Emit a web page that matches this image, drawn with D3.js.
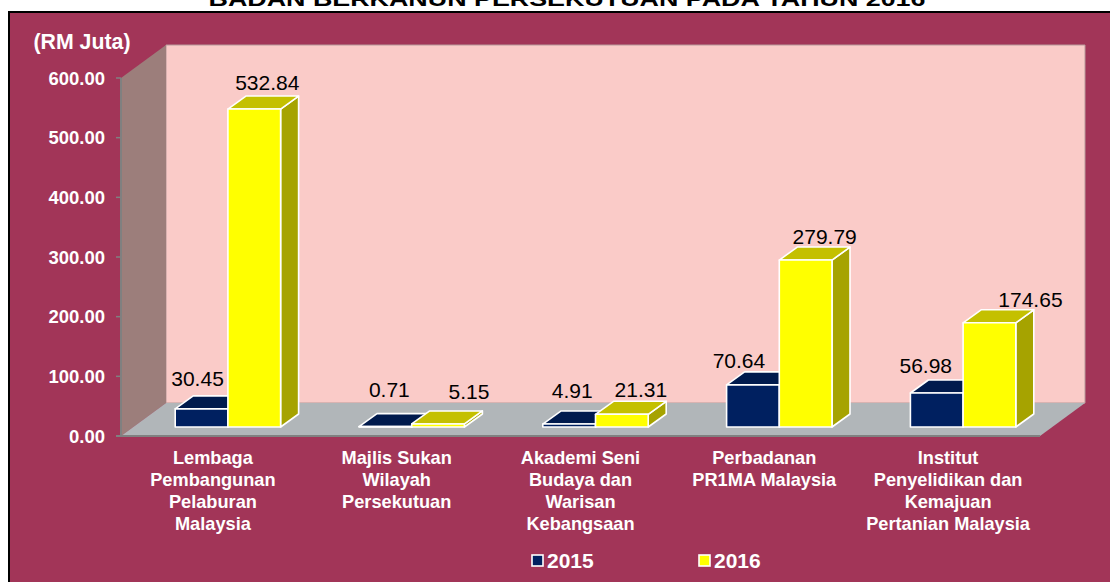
<!DOCTYPE html>
<html><head><meta charset="utf-8">
<script src="https://cdnjs.cloudflare.com/ajax/libs/d3/7.8.5/d3.min.js"></script>
<style>html,body{margin:0;padding:0;background:#fff}svg{display:block}text{font-family:"Liberation Sans",Arial,sans-serif}</style>
</head><body><svg id="c" width="1110" height="582"></svg>
<script>
const titleText = "BADAN BERKANUN PERSEKUTUAN PADA TAHUN 2016";
const unitLabel = "(RM Juta)";
const categories = [
  ["Lembaga","Pembangunan","Pelaburan","Malaysia"],
  ["Majlis Sukan","Wilayah","Persekutuan"],
  ["Akademi Seni","Budaya dan","Warisan","Kebangsaan"],
  ["Perbadanan","PR1MA Malaysia"],
  ["Institut","Penyelidikan dan","Kemajuan","Pertanian Malaysia"]
];
const seriesNames = ["2015","2016"];
const values2015 = [30.45,0.71,4.91,70.64,56.98];
const values2016 = [532.84,5.15,21.31,279.79,174.65];
const yTicks = [0,100,200,300,400,500,600];

const svg = d3.select("#c");
const plot = {x0:121,x1:1040,y0:436,y1:78};
const depth = {dx:45,dy:-33};
const barOff = {dx:15,dy:-9};
const barDepth = {dx:18,dy:-13};
const x = d3.scaleBand().domain(d3.range(categories.length)).range([plot.x0,plot.x1]);
const inner = d3.scaleBand().domain([0,1]).range([x.bandwidth()/2-52.7,x.bandwidth()/2+52.7]);
const y = d3.scaleLinear().domain([0,600]).range([plot.y0,plot.y1]);
const poly = pts => pts.map(p=>p.join(",")).join(" ");

// frame
svg.append("rect").attr("x",9).attr("y",12).attr("width",1110).attr("height",590)
  .attr("fill","#A23558").attr("stroke","#000").attr("stroke-width",2);
// title
svg.append("text").attr("x",567).attr("y",6).attr("text-anchor","middle")
  .attr("font-size",20.3).attr("font-weight","bold").attr("fill","#000")
  .attr("textLength",717).attr("lengthAdjust","spacingAndGlyphs").text(titleText);

// walls
const yTop = y(600), yBase = y(0);
svg.append("polygon").attr("points",poly([[plot.x0+depth.dx,yTop+depth.dy],[plot.x1+depth.dx,yTop+depth.dy],[plot.x1+depth.dx,yBase+depth.dy],[plot.x0+depth.dx,yBase+depth.dy]]))
  .attr("fill","#FACBC8").attr("stroke","#B89A9A").attr("stroke-width",1);
svg.append("polygon").attr("points",poly([[plot.x0,yTop],[plot.x0+depth.dx,yTop+depth.dy],[plot.x0+depth.dx,yBase+depth.dy],[plot.x0,yBase]]))
  .attr("fill","#9C7E7B");
svg.append("polygon").attr("points",poly([[plot.x0,yBase],[plot.x0+depth.dx,yBase+depth.dy],[plot.x1+depth.dx,yBase+depth.dy],[plot.x1,yBase]]))
  .attr("fill","#B1B6B9");
// axis lines
svg.append("line").attr("x1",plot.x0).attr("x2",plot.x0).attr("y1",yTop).attr("y2",yBase).attr("stroke","#808080").attr("stroke-width",2);
svg.append("line").attr("x1",plot.x0-5).attr("x2",plot.x1).attr("y1",yBase).attr("y2",yBase).attr("stroke","#808080").attr("stroke-width",2);

// y ticks
const gy = svg.append("g").selectAll("g").data(yTicks).join("g");
gy.filter(d=>d>0).append("line").attr("x1",plot.x0-5).attr("x2",plot.x0).attr("y1",d=>y(d)).attr("y2",d=>y(d)).attr("stroke","#808080").attr("stroke-width",1.5);
gy.append("text").attr("x",105).attr("y",d=>y(d)+6.5).attr("text-anchor","end").attr("font-size",18.5).attr("font-weight","bold").attr("fill","#fff").text(d=>d.toFixed(2));
svg.append("text").attr("x",82).attr("y",49).attr("text-anchor","middle").attr("font-size",21.3).attr("font-weight","bold").attr("fill","#fff").text(unitLabel);

// bars
const colors = [{front:"#002060",top:"#001A4D",side:"#001A4D"},{front:"#FFFF00",top:"#C4C000",side:"#A6A300"}];
const series = [values2015,values2016];
const barLabelOffsets = [[[-12,-10],[5,-6]],[[-4,-17],[23,-12]],[[-5,-13],[11,-4]],[[-22,-4],[11,-3]],[[-19,-7],[33,-3]]];
[0,1].forEach(s=>{
  const g = svg.append("g");
  series[s].forEach((v,i)=>{
    const bx = x(i)+inner(s)+barOff.dx, w = inner.bandwidth();
    const b = y(0)+barOff.dy, t = y(v)+barOff.dy;
    const st = {stroke:"#fff","stroke-width":1.6,"stroke-linejoin":"round"};
    const add = (pts,fill)=>{const p=g.append("polygon").attr("points",poly(pts)).attr("fill",fill);Object.entries(st).forEach(([k,a])=>p.attr(k,a));};
    add([[bx+w,t],[bx+w+barDepth.dx,t+barDepth.dy],[bx+w+barDepth.dx,b+barDepth.dy],[bx+w,b]],colors[s].side);
    add([[bx,t],[bx+barDepth.dx,t+barDepth.dy],[bx+w+barDepth.dx,t+barDepth.dy],[bx+w,t]],colors[s].top);
    add([[bx,t],[bx+w,t],[bx+w,b],[bx,b]],colors[s].front);
  });
});
// data labels
[0,1].forEach(s=>series[s].forEach((v,i)=>{
  const bx = x(i)+inner(s)+barOff.dx, w = inner.bandwidth();
  const o = barLabelOffsets[i][s];
  svg.append("text").attr("x",bx+w/2+8+o[0]).attr("y",y(v)+barOff.dy+barDepth.dy+o[1])
    .attr("text-anchor","middle").attr("font-size",21).attr("fill","#000").text(v.toFixed(2));
}));

// category labels
categories.forEach((lines,i)=>{
  const t = svg.append("text").attr("text-anchor","middle").attr("font-size",18.2).attr("font-weight","bold").attr("fill","#fff");
  lines.forEach((l,k)=>t.append("tspan").attr("x",x(i)+x.bandwidth()/2).attr("y",464+k*22).text(l));
});

// legend
const legX = [531,698];
seriesNames.forEach((n,s)=>{
  svg.append("rect").attr("x",legX[s]+1).attr("y",555).attr("width",11).attr("height",11).attr("fill",colors[s].front).attr("stroke","#fff").attr("stroke-width",1.6);
  svg.append("text").attr("x",legX[s]+16).attr("y",568).attr("font-size",21).attr("font-weight","bold").attr("fill","#fff").text(n);
});
</script></body></html>
